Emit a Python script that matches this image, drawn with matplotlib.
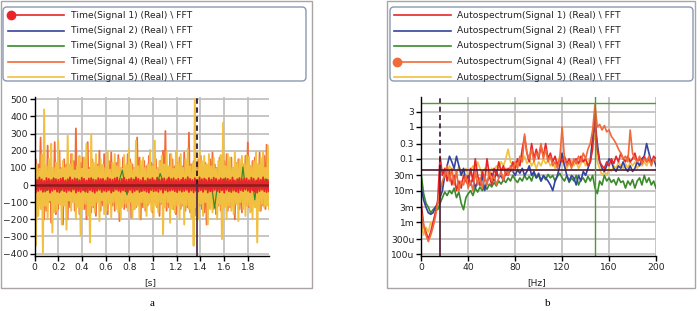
import numpy as np
import matplotlib
matplotlib.use("Agg")
import matplotlib.pyplot as plt
import matplotlib.transforms as mtransforms
from matplotlib.patches import FancyBboxPatch, Rectangle
from matplotlib.lines import Line2D

# ---------------- data: time signals (left) ----------------
t_end = 1.98
sig1_time = [
    38, -42, 30, -35, 44, -28, 33, -40, 25, -38, 41, -30, 36, -44, 29, -34, 40, -26, 35, -39,
    31, -43, 37, -29, 42, -36, 27, -41, 34, -32, 45, -38, 30, -27, 39, -44, 33, -35, 28, -40,
    43, -31, 36, -39, 26, -42, 38, -30, 41, -37, 32, -45, 29, -34, 40, -28, 35, -41, 37, -33,
    27, -38, 42, -30, 35, -44, 31, -36, 39, -27, 44, -33, 28, -40, 36, -31, 43, -37, 30, -42,
    34, -29, 40, -43, 32, -35, 45, -28, 37, -41, 29, -36, 42, -32, 26, -39, 38, -44, 33, -30,
    41, -37, 28, -34, 43, -40, 31, -27, 36, -45, 39, -30, 25, -38, 44, -33, 35, -29, 40, -36,
    30, -42, 37, -31, 27, -39, 42, -35, 33, -28, 46, -41, 36, -32, 29, -43, 40, -34, 31, -38,
    45, -30, 34, -40, 38, -27, 29, -44, 41, -36, 32, -39, 43, -29, 37, -35, 28, -42, 39, -31,
    33, -45, 40, -28, 36, -37, 30, -41, 44, -32, 27, -38, 35, -43, 41, -30, 32, -36, 38, -27,
    39, -34, 29, -42, 43, -31, 37, -39, 26, -44, 40, -35, 31, -28, 45, -37, 34, -41, 30, -36,
]
sig2_time = [
    12, -8, 15, -10, 6, -14, 11, -7, 16, -9,
    -13, 9, -6, 14, -11, 8, -15, 10, -7, 12,
    10, -16, 7, -12, 14, -9, 6, -13, 11, -8,
    -9, 13, -15, 8, -10, 16, -7, 11, -12, 6,
    15, -11, 9, -6, 12, -14, 8, -10, 13, -7,
    -12, 7, -10, 15, -8, 11, -16, 9, -6, 14,
    8, -13, 12, -9, 16, -7, 10, -15, 6, -11,
    -14, 10, -7, 13, -11, 6, -12, 15, -9, 8,
    11, -6, 14, -12, 7, -16, 9, -8, 15, -10,
    -7, 12, -9, 16, -13, 8, -11, 6, -14, 10,
]
sig3_time = [
    22, -18, 35, -25, 15, -30, 28, -12, 40, -22, 18, -35, 25, -15, 30, -28, 12, -20, 38, -24,
    16, -32, 27, -18, 35, -26, 20, -14, 30, -22, 20, -28, 15, -33, 26, -19, 38, 86, 14, -57,
    25, -16, 32, -27, 18, -36, 22, -12, 30, -25, 30, -20, 16, 67, 28, -18, 36, -24, 14, -29,
    26, -17, 33, -22, 19, -38, 24, -20, 31, -20, 15, -27, 35, -16, 22, -31, -134, -25, 29, -14,
    37, -23, 16, -30, 27, -19, 33, -26, 105, -21, 18, -35, 24, -86, 30, -17, 20, -28, 34, -22,
]
sig4_time = [
    -100, 150, -180, 120, -90, 277, -130, 80, -200, 110, -150, 230, -100, 140, -220, 90, -120, 250, -170, 100,
    -140, 200, -110, 90, -230, 150, -100, 120, -200, 80, -130, 180, -90, 140, -150, 330, -120, 100, -170, 130,
    -110, 160, -140, 90, -200, 250, -120, 100, -160, 150, -130, 90, -180, 120, -100, 200, -150, 110, -120, 180,
    -130, 100, -170, 140, -90, 190, -120, 110, -150, 130, -100, 175, -210, 90, -120, 160, -140, 100, -130, 180,
    -100, 150, -190, 120, -140, 90, -130, 277, -110, 160, -200, 100, -130, 140, -150, 110, -120, 170, -100, 130,
    -160, 120, -100, 150, -130, 90, -180, 140, -110, 200, -120, 315, -150, 100, -130, 180, -100, 150, -140, 110,
    -170, 130, -100, 160, -140, 110, -120, 190, -150, 100, -130, 306, -160, 120, -100, 140, -180, 110, -130, 150,
    -120, 170, -140, 100, -160, 130, -230, 110, -130, 150, -100, 190, -140, 120, -170, 100, -120, 160, -150, 110,
    -130, 140, -100, 180, -150, 110, -130, 160, -120, 100, -200, 130, -110, 150, -140, 100, -160, 120, -100, 170,
    -120, 248, -130, 110, -150, 140, -100, 160, -130, 120, -110, 190, -150, 100, -120, 170, -140, 235, -100, 130,
]
sig5_time = [
    277, -354, 120, -180, 95, -140, 180, -400, 440, -120, 110, -200, 150, -90, 240, -277, 100, -160, 130, -150,
    258, -110, 90, -230, 140, -120, 100, -260, 287, -90, 120, -150, 180, -100, 85, -200, 110, -130, 170, -296,
    95, -140, 160, -110, 240, -180, 90, -335, 296, -120, 130, -160, 180, -100, 110, -210, 150, -90, 120, -170,
    100, -150, 200, -110, 90, -190, 130, -100, 180, -140, 110, -160, 150, -200, 95, -130, 175, -110, 120, -150,
    210, -100, 130, -190, 90, -140, 258, -120, 110, -200, 140, -100, 160, -130, 100, -180, 120, -110, 205, -150,
    110, -190, 258, -120, 90, -160, 140, -100, 170, -287, 120, -130, 195, -100, 110, -220, 180, -140, 95, -160,
    200, -120, 130, -200, 180, -110, 100, -230, 150, -120, 210, -140, 110, -190, 125, -354, 500, -130, 90, -200,
    200, -110, 140, -180, 170, -100, 120, -230, 180, -140, 110, -160, 160, -120, 95, -200, 140, -110, 175, -315,
    363, -130, 110, -200, 180, -120, 160, -150, 100, -170, 190, -110, 130, -210, 150, -100, 170, -140, 120, -180,
    175, -120, 165, -160, 110, -200, 140, -130, 195, -335, 120, -150, 160, -110, 195, -130, 100, -120, 230, -140,
]

# ---------------- data: autospectra (right), 2 Hz steps ----------------
freq_step = 2
sig1_spec = [
    0.004, 0.0008, 0.0005, 0.0003, 0.0005, 0.001, 0.002, 0.005, 0.12, 0.03, 0.05, 0.02, 0.04, 0.015, 0.03, 0.01,
    0.02, 0.012, 0.03, 0.02, 0.015, 0.05, 0.02, 0.1, 0.03, 0.015, 0.04, 0.02, 0.1, 0.03, 0.015, 0.05,
    0.03, 0.08, 0.04, 0.06, 0.03, 0.05, 0.04, 0.08, 0.05, 0.1, 0.06, 0.2, 0.5, 0.15, 0.08, 0.3,
    0.1, 0.2, 0.1, 0.25, 0.12, 0.3, 0.1, 0.15, 0.08, 0.12, 0.06, 0.1, 0.08, 0.12, 0.07, 0.1,
    0.06, 0.08, 0.1, 0.07, 0.12, 0.08, 0.1, 0.06, 0.08, 0.2, 3.0, 0.2, 0.08, 0.06, 0.05, 0.08,
    0.06, 0.1, 0.07, 0.12, 0.08, 0.15, 0.1, 0.08, 0.12, 0.08, 0.1, 0.15, 0.08, 0.1, 0.07, 0.12,
    0.08, 0.1, 0.07, 0.12, 0.1,
]
sig2_spec = [
    0.012, 0.005, 0.003, 0.002, 0.0018, 0.002, 0.003, 0.004, 0.006, 0.01, 0.03, 0.06, 0.12, 0.08, 0.05, 0.12,
    0.06, 0.03, 0.05, 0.02, 0.03, 0.015, 0.025, 0.012, 0.02, 0.015, 0.03, 0.01, 0.02, 0.025, 0.035, 0.02,
    0.04, 0.025, 0.03, 0.02, 0.04, 0.03, 0.05, 0.04, 0.03, 0.045, 0.035, 0.05, 0.03, 0.04, 0.06, 0.03,
    0.04, 0.025, 0.035, 0.02, 0.03, 0.025, 0.02, 0.015, 0.01, 0.02, 0.03, 0.06, 0.15, 0.06, 0.03, 0.02,
    0.03, 0.025, 0.015, 0.03, 0.02, 0.04, 0.03, 0.05, 0.08, 0.5, 1.0, 0.3, 0.08, 0.05, 0.04, 0.06,
    0.1, 0.08, 0.05, 0.04, 0.06, 0.05, 0.08, 0.05, 0.04, 0.06, 0.04, 0.05, 0.08, 0.06, 0.1, 0.12,
    0.3, 0.15, 0.08, 0.1, 0.06,
]
sig3_spec = [
    0.03, 0.008, 0.004, 0.003, 0.002, 0.0025, 0.003, 0.0025, 0.004, 0.006, 0.009, 0.007, 0.01, 0.008, 0.012, 0.006,
    0.009, 0.004, 0.0025, 0.006, 0.008, 0.01, 0.007, 0.012, 0.009, 0.013, 0.01, 0.014, 0.011, 0.016, 0.013, 0.018,
    0.014, 0.02, 0.016, 0.022, 0.018, 0.025, 0.02, 0.03, 0.022, 0.018, 0.025, 0.02, 0.03, 0.022, 0.028, 0.02,
    0.035, 0.025, 0.03, 0.02, 0.028, 0.022, 0.032, 0.025, 0.03, 0.02, 0.028, 0.035, 0.025, 0.02, 0.03, 0.018,
    0.025, 0.02, 0.03, 0.015, 0.022, 0.025, 0.018, 0.028, 0.02, 0.03, 0.012, 0.008, 0.02, 0.015, 0.03, 0.02,
    0.025, 0.018, 0.022, 0.015, 0.025, 0.018, 0.02, 0.012, 0.02, 0.015, 0.022, 0.012, 0.02, 0.025, 0.015, 0.03,
    0.018, 0.025, 0.015, 0.02, 0.012,
]
sig4_spec = [
    0.002, 0.0008, 0.0004, 0.00025, 0.0004, 0.0007, 0.0015, 0.004, 0.01, 0.02, 0.03, 0.06, 0.02, 0.05, 0.015, 0.04,
    0.01, 0.02, 0.015, 0.03, 0.012, 0.02, 0.01, 0.04, 0.015, 0.025, 0.012, 0.03, 0.015, 0.04, 0.02, 0.03,
    0.015, 0.025, 0.04, 0.02, 0.05, 0.03, 0.06, 0.04, 0.08, 0.05, 0.12, 0.08, 0.6, 0.15, 0.1, 0.2,
    0.08, 0.15, 0.12, 0.3, 0.1, 0.2, 0.08, 0.12, 0.06, 0.08, 0.05, 0.1, 1.0, 0.1, 0.06, 0.08,
    0.05, 0.1, 0.07, 0.12, 0.08, 0.15, 0.1, 0.2, 0.3, 0.8, 5.0, 1.0, 1.2, 0.8, 1.1, 0.7,
    0.8, 0.5, 0.4, 0.3, 0.2, 0.15, 0.1, 0.12, 0.08, 0.8, 0.15, 0.1, 0.08, 0.12, 0.07, 0.1,
    0.08, 0.12, 0.06, 0.1, 0.08,
]
sig5_spec = [
    0.001, 0.0004, 0.0007, 0.0005, 0.001, 0.0008, 0.002, 0.004, 0.008, 0.015, 0.04, 0.03, 0.06, 0.04, 0.05, 0.03,
    0.06, 0.04, 0.03, 0.05, 0.03, 0.04, 0.06, 0.04, 0.08, 0.05, 0.03, 0.05, 0.04, 0.03, 0.05, 0.04,
    0.06, 0.05, 0.08, 0.06, 0.1, 0.2, 0.08, 0.06, 0.05, 0.07, 0.1, 0.08, 0.12, 0.07, 0.1, 0.06,
    0.08, 0.05, 0.08, 0.06, 0.1, 0.07, 0.09, 0.06, 0.08, 0.05, 0.07, 0.12, 0.08, 0.06, 0.05, 0.07,
    0.09, 0.06, 0.08, 0.05, 0.07, 0.1, 0.06, 0.08, 0.1, 0.3, 0.6, 0.08, 0.05, 0.03, 0.04, 0.03,
    0.05, 0.04, 0.06, 0.05, 0.08, 0.06, 0.05, 0.07, 0.05, 0.08, 0.06, 0.08, 0.05, 0.07, 0.06, 0.08,
    0.06, 0.09, 0.07, 0.1, 0.08,
]

time_labels = ["Time(Signal %d) (Real) \\ FFT" % i for i in range(1, 6)]
spec_labels = ["Autospectrum(Signal %d) (Real) \\ FFT" % i for i in range(1, 6)]
spec_ticks = [1e-4, 3e-4, 1e-3, 3e-3, 1e-2, 3e-2, 0.1, 0.3, 1, 3]
spec_tick_labels = ["100u", "300u", "1m", "3m", "10m", "30m", "0.1", "0.3", "1", "3"]

colors = ["#e8262a", "#3344a0", "#3a8a2a", "#f26a3a", "#f2c040"]
grid_col = "#c4c0c0"
txt_col = "#222222"

W, H = 700, 311
fig = plt.figure(figsize=(7, 3.11), dpi=100)
# pixel coordinates with y pointing down
px = mtransforms.Affine2D().scale(1 / W, -1 / H).translate(0, 1) + fig.transFigure


def ax_rect(x0, y0, x1, y1):
    return [x0 / W, 1 - y1 / H, (x1 - x0) / W, (y1 - y0) / H]


def panel(x0, x1, lx0, lx1, line_x0, line_x1, text_x, labels, marker_idx):
    fig.add_artist(Rectangle((x0, 1), x1 - x0, 287, transform=px, fill=False,
                             edgecolor="#aaa4a4", lw=1.0))
    fig.add_artist(FancyBboxPatch((lx0, 7), lx1 - lx0, 74, transform=px,
                                  boxstyle="round,pad=0,rounding_size=4",
                                  fill=False, edgecolor="#8a98b4", lw=1.0))
    for i, lab in enumerate(labels):
        y = 15 + i * 15.5
        fig.add_artist(Line2D([line_x0, line_x1], [y, y], transform=px,
                              color=colors[i], lw=1.2))
        if i == marker_idx:
            fig.add_artist(Line2D([line_x0 + 3], [y], transform=px, marker="o",
                                  ms=6, color=colors[i], lw=0))
        fig.text(text_x, y, lab, transform=px, fontsize=6.6, color=txt_col,
                 va="center", ha="left")


def style_axes(ax):
    for s in ["top", "right"]:
        ax.spines[s].set_visible(False)
    for s in ["left", "bottom"]:
        ax.spines[s].set_color("black")
        ax.spines[s].set_linewidth(1.0)
    ax.grid(True, color=grid_col, lw=1.3)
    ax.set_axisbelow(True)
    ax.tick_params(labelsize=6.6, colors="black", labelcolor=txt_col,
                   length=3.5, width=1, pad=1.5)


# ---------------- left panel ----------------
panel(0.5, 312, 3, 306, 8, 64, 71, time_labels, 0)
ax1 = fig.add_axes(ax_rect(34.7, 96.7, 269, 255.7))
style_axes(ax1)
t_fast = np.linspace(0, t_end, len(sig5_time))
t_slow = np.linspace(0, t_end, len(sig2_time))
ax1.plot(t_fast, sig4_time, color=colors[3], lw=1.3)
ax1.plot(t_fast, sig5_time, color=colors[4], lw=1.4)
ax1.plot(t_slow, sig2_time, color=colors[1], lw=0.9)
ax1.plot(t_slow, sig3_time, color=colors[2], lw=0.9)
ax1.plot(t_fast, sig1_time, color=colors[0], lw=1.3)
ax1.axhline(0, color="#8a1e1e", lw=1.8)
ax1.plot([1.37, 1.37], [0, 515], color="#301830", lw=1.3, dashes=(3, 2))
ax1.plot([1.37, 1.37], [-412, 0], color="#503050", lw=1.3)
ax1.set_xlim(0, t_end)
ax1.set_ylim(-412, 515)
ax1.set_yticks(range(-400, 501, 100))
ax1.set_xticks([0, 0.2, 0.4, 0.6, 0.8, 1, 1.2, 1.4, 1.6, 1.8])
ax1.set_xticklabels(["0", "0.2", "0.4", "0.6", "0.8", "1", "1.2", "1.4", "1.6", "1.8"])
fig.text(150, 283, "[s]", transform=px, fontsize=6.6, color=txt_col, ha="center", va="center")

# ---------------- right panel ----------------
panel(387, 695, 390, 693, 394, 451, 457, spec_labels, 3)
ax2 = fig.add_axes(ax_rect(421.3, 96.7, 656, 255.7))
style_axes(ax2)
freq = np.arange(len(sig1_spec)) * freq_step
ax2.plot(freq, sig3_spec, color=colors[2], lw=1.2)
ax2.plot(freq, sig5_spec, color=colors[4], lw=1.2)
ax2.plot(freq, sig2_spec, color=colors[1], lw=1.2)
ax2.plot(freq, sig1_spec, color=colors[0], lw=1.2)
ax2.plot(freq, sig4_spec, color=colors[3], lw=1.2)
ax2.set_yscale("log")
ax2.set_xlim(0, 200)
ax2.set_ylim(9e-5, 8.9)
ax2.set_yticks(spec_ticks)
ax2.set_yticklabels(spec_tick_labels)
ax2.minorticks_off()
ax2.set_xticks([0, 40, 80, 120, 160, 200])
ax2.axhline(0.044, color="#4a1830", lw=1.2)
ax2.plot([16, 16], [0.044, 8.9], color="#301830", lw=1.2, dashes=(3, 2))
ax2.plot([16, 16], [9e-5, 0.044], color="#4a1830", lw=1.2)
ax2.axhline(5.5, color="#4c9a3c", lw=1.0)
ax2.axvline(148, color="#4c9a3c", lw=1.0)
fig.text(537, 283, "[Hz]", transform=px, fontsize=6.6, color=txt_col, ha="center", va="center")

# captions
fig.text(152, 303, "a", transform=px, fontsize=8, family="Liberation Serif",
         ha="center", va="center")
fig.text(548, 303, "b", transform=px, fontsize=8, family="Liberation Serif",
         ha="center", va="center")

fig.savefig("out.png", dpi=100)
